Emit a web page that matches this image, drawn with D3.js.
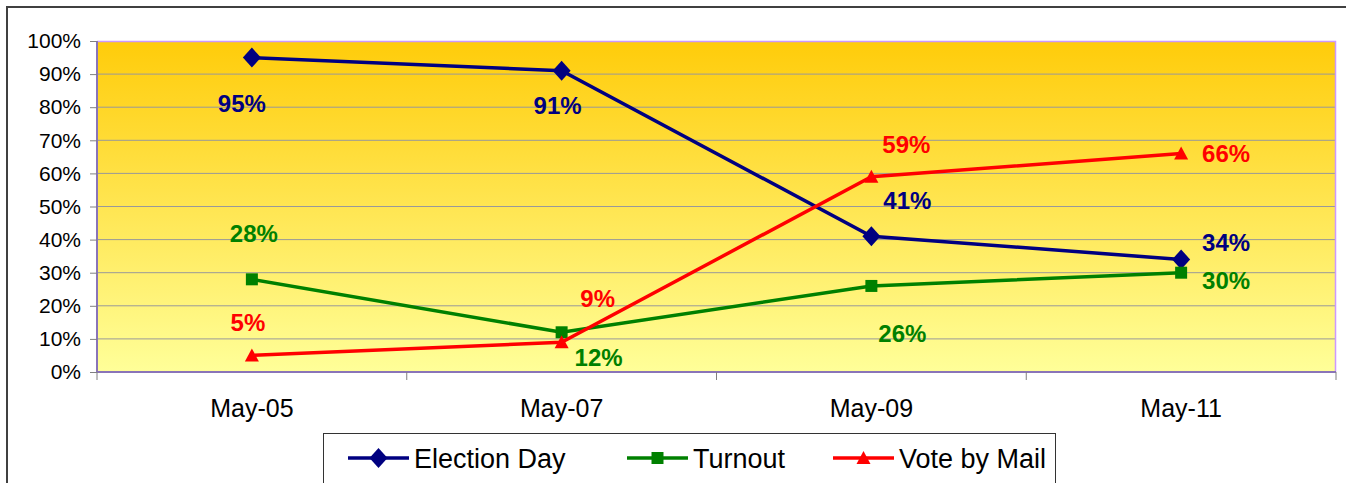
<!DOCTYPE html>
<html>
<head>
<meta charset="utf-8">
<script src="https://cdn.jsdelivr.net/npm/d3@7"></script>
<style>
  body { margin: 0; background: #fff; }
  svg { display: block; font-family: Arial, "Liberation Sans", sans-serif; }
</style>
</head>
<body>
<svg id="chart" width="1346" height="483"></svg>
<script>
// data
var categories = ["May-05", "May-07", "May-09", "May-11"];
var electionDay = [95, 91, 41, 34];
var turnout = [28, 12, 26, 30];
var voteByMail = [5, 9, 59, 66];
var yTicks = [0, 10, 20, 30, 40, 50, 60, 70, 80, 90, 100];

// label nudges (px) per series, one per category
var labelOffsets = {
    ed: [[-10, 54], [-4, 43], [36, -27], [45, -8]],
    to: [[2, -37], [37, 34], [31, 56], [45, 16]],
    vm: [[-4, -24], [36, -35], [35, -24], [45, 8]]
};

var series = [
    { key: "ed", name: "Election Day", values: electionDay, color: "#000080", marker: "diamond" },
    { key: "to", name: "Turnout", values: turnout, color: "#008000", marker: "square" },
    { key: "vm", name: "Vote by Mail", values: voteByMail, color: "#FF0000", marker: "triangle" }
];

var margin = { top: 41, left: 97, right: 10, bottom: 111 },
    width = 1336 - margin.left,
    height = 372 - margin.top;

var svg = d3.select("#chart");

// outer frame (cut off at right and bottom)
svg.append("rect")
    .attr("x", 7).attr("y", 7)
    .attr("width", 1400).attr("height", 600)
    .style("fill", "none")
    .style("stroke", "#404040")
    .style("stroke-width", 2);

var defs = svg.append("defs");
var grad = defs.append("linearGradient")
    .attr("id", "bg")
    .attr("x1", 0).attr("y1", 0).attr("x2", 0).attr("y2", 1);
grad.append("stop").attr("offset", "0%").attr("stop-color", "#FFCC0A");
grad.append("stop").attr("offset", "100%").attr("stop-color", "#FFFF99");

var g = svg.append("g")
    .attr("transform", "translate(" + margin.left + "," + margin.top + ")");

var x = d3.scaleBand()
    .domain(categories)
    .range([0, width]);

var y = d3.scaleLinear()
    .domain([0, 100])
    .range([height, 0]);

g.append("rect")
    .attr("width", width).attr("height", height)
    .style("fill", "url(#bg)");

// gridlines
g.selectAll(".grid")
    .data(yTicks.filter(d => d > 0 && d < 100))
    .enter().append("line")
    .attr("class", "grid")
    .attr("x1", 0).attr("x2", width)
    .attr("y1", d => y(d)).attr("y2", d => y(d))
    .style("stroke", "#999")
    .style("stroke-width", 1);

// top / right border
g.append("path")
    .attr("d", "M0,0.5H" + (width - 0.5) + "V" + height)
    .style("fill", "none")
    .style("stroke", "#CC99FF")
    .style("stroke-width", 1.5);

// y axis
var yAxis = g.append("g")
    .call(d3.axisLeft(y).tickValues(yTicks).tickFormat(d => d + "%").tickSize(7).tickPadding(9));
yAxis.select(".domain").style("stroke", "#8A74B8").style("stroke-width", 2).attr("d", "M0,0V" + height);
yAxis.selectAll(".tick line").style("stroke", "#808080");
yAxis.selectAll(".tick text")
    .style("font-size", "21px")
    .style("fill", "#000");

// x axis with ticks at category boundaries
var xAxis = g.append("g")
    .attr("transform", "translate(0," + height + ")");
xAxis.append("line")
    .attr("x1", 0).attr("x2", width)
    .style("stroke", "#8A74B8").style("stroke-width", 2);
var bounds = categories.map(c => x(c)).concat([width]);
xAxis.selectAll(".xtick")
    .data(bounds)
    .enter().append("line")
    .attr("class", "xtick")
    .attr("x1", d => d).attr("x2", d => d)
    .attr("y1", 0).attr("y2", 8)
    .style("stroke", "#808080");
xAxis.selectAll(".xlabel")
    .data(categories)
    .enter().append("text")
    .attr("class", "xlabel")
    .attr("x", d => x(d) + x.bandwidth() / 2)
    .attr("y", 45)
    .attr("text-anchor", "middle")
    .style("font-size", "25px")
    .text(d => d);

var cx = (d, i) => x(categories[i]) + x.bandwidth() / 2;

var line = d3.line()
    .x(cx)
    .y(d => y(d));

function markerPath(type) {
    if (type === "diamond") return "M0,-10L9,0L0,10L-9,0Z";
    if (type === "square") return "M-6,-6H6V6H-6Z";
    return "M0,-7L7,6H-7Z";
}

series.forEach(function(s) {
    var sg = g.append("g");
    sg.append("path")
        .datum(s.values)
        .attr("d", line)
        .style("fill", "none")
        .style("stroke", s.color)
        .style("stroke-width", 3.5);

    sg.selectAll(".marker")
        .data(s.values)
        .enter().append("path")
        .attr("class", "marker")
        .attr("transform", (d, i) => "translate(" + cx(d, i) + "," + y(d) + ")")
        .attr("d", markerPath(s.marker))
        .style("fill", s.color);

    sg.selectAll(".lbl")
        .data(s.values)
        .enter().append("text")
        .attr("class", "lbl")
        .attr("x", (d, i) => cx(d, i) + labelOffsets[s.key][i][0])
        .attr("y", (d, i) => y(d) + labelOffsets[s.key][i][1])
        .attr("text-anchor", "middle")
        .style("font-size", "24px")
        .style("font-weight", "bold")
        .style("fill", s.color)
        .text(d => d + "%");
});

// legend
var legend = svg.append("g").attr("transform", "translate(323,433)");
legend.append("rect")
    .attr("x", 0.5).attr("y", 0.5)
    .attr("width", 732).attr("height", 52)
    .style("fill", "#fff")
    .style("stroke", "#333")
    .style("stroke-width", 1);

var legendX = [25, 304, 510];
series.forEach(function(s, i) {
    var lg = legend.append("g").attr("transform", "translate(" + legendX[i] + ",25)");
    lg.append("line")
        .attr("x1", 0).attr("x2", 61)
        .style("stroke", s.color).style("stroke-width", 3.5);
    lg.append("path")
        .attr("transform", "translate(30.5,0)")
        .attr("d", markerPath(s.marker))
        .style("fill", s.color);
    lg.append("text")
        .attr("x", 66).attr("y", 10)
        .style("font-size", "27px")
        .text(s.name);
});
</script>
</body>
</html>
